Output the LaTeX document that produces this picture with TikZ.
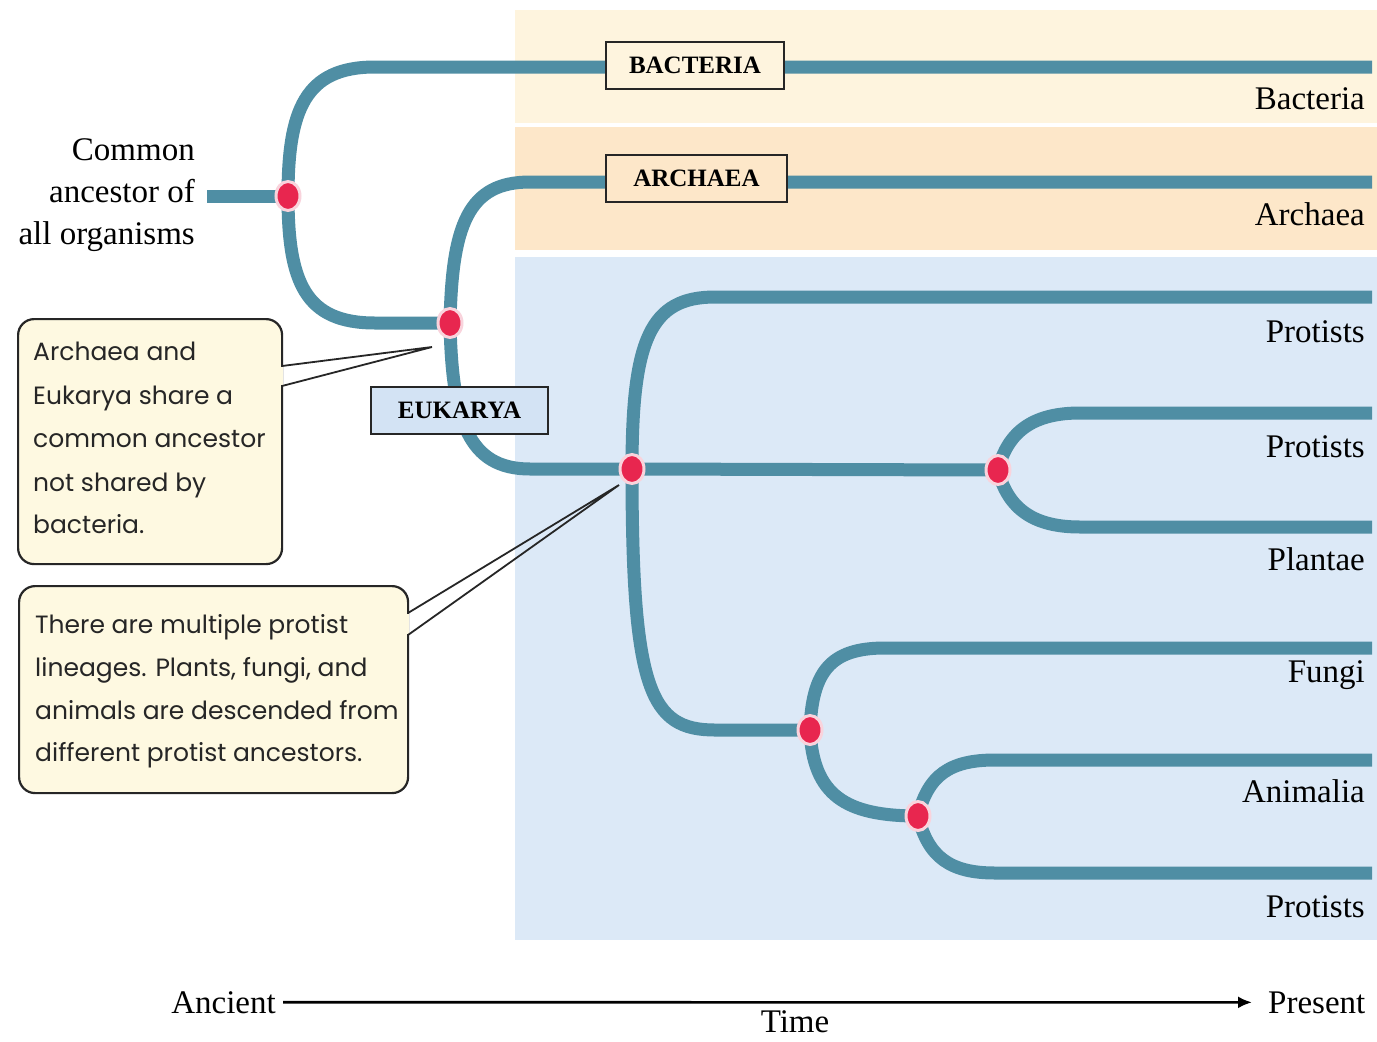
\documentclass[tikz,border=0pt]{standalone}
\usepackage{fontspec}
\setmainfont{Liberation Serif}
\newfontfamily\callfont{Poppins}
\usetikzlibrary{arrows.meta,shapes.geometric}
\definecolor{branchc}{HTML}{4F8EA4}
\definecolor{bactbg}{HTML}{FEF4DE}
\definecolor{archbg}{HTML}{FDE7C9}
\definecolor{eukbg}{HTML}{DCE9F7}
\definecolor{eukbox}{HTML}{D3E3F4}
\definecolor{callbg}{HTML}{FEF9E1}
\definecolor{dotc}{HTML}{E8264F}
\definecolor{haloc}{HTML}{F9D3DC}
\definecolor{boxline}{HTML}{262626}
\begin{document}
\begin{tikzpicture}[x=1pt,y=-1pt,
  branch/.style={draw=branchc,line width=13pt,line cap=butt},
  lbl/.style={anchor=base east,inner sep=0pt,font=\fontsize{33}{36}\selectfont},
  axislbl/.style={inner sep=0pt,font=\fontsize{33}{36}\selectfont},
  anclbl/.style={anchor=base east,inner sep=0pt,font=\fontsize{33}{36}\selectfont},
  cladebox/.style={draw=boxline,line width=2.2pt,inner sep=0pt,minimum height=47pt,font=\bfseries\fontsize{25}{28}\selectfont},
  callout/.style={draw=boxline,line width=2.2pt,fill=callbg,rounded corners=16pt,anchor=north west,inner sep=0pt},
  calltext/.style={anchor=base west,inner sep=0pt,text=black!85,font=\callfont\fontsize{25}{28}\selectfont},
  pointer/.style={draw=boxline,line width=1.8pt,line join=miter},
  dot/.style={ellipse,fill=dotc,draw=haloc,line width=3pt,minimum width=24pt,minimum height=29pt,inner sep=0pt}
]
\useasboundingbox (0,0) rectangle (1377,1042);
\fill[white] (0,0) rectangle (1377,1042);
% background bands
\fill[bactbg] (515,10) rectangle (1377,123);
\fill[archbg] (515,127) rectangle (1377,250);
\fill[eukbg] (515,257) rectangle (1377,940);

% branch points
\coordinate (root0) at (207,196);
\coordinate (n1) at (288,196);
\coordinate (n2) at (450,323);
\coordinate (n3) at (632,469);
\coordinate (n4) at (998,470);
\coordinate (n5) at (810,730);
\coordinate (n6) at (918,816);
% tips
\coordinate (eB) at (1372,67);
\coordinate (eA) at (1372,182);
\coordinate (eP1) at (1372,297);
\coordinate (eP2) at (1372,413);
\coordinate (ePl) at (1372,527);
\coordinate (eF) at (1372,648);
\coordinate (eAn) at (1372,760);
\coordinate (eP3) at (1372,873);

% branches
\draw[branch] (root0) -- (n1);
\draw[branch] (n1) .. controls (288,110) and (305,67) .. (375,67) -- (eB);
\draw[branch] (n1) .. controls (288,282) and (305,323) .. (375,323) -- (n2);
\draw[branch] (n2) .. controls (452,225) and (468,182) .. (530,182) -- (eA);
\draw[branch] (n2) .. controls (452,420) and (468,469) .. (530,469) -- (n3);
\draw[branch] (n3) .. controls (632,340) and (650,297) .. (715,297) -- (eP1);
\draw[branch] (n3) -- (n4);
\draw[branch] (n3) .. controls (632,690) and (650,730) .. (715,730) -- (n5);
\draw[branch] (n4) .. controls (1008,430) and (1035,413) .. (1080,413) -- (eP2);
\draw[branch] (n4) .. controls (1008,510) and (1035,527) .. (1080,527) -- (ePl);
\draw[branch] (n5) .. controls (812,672) and (830,648) .. (885,648) -- (eF);
\draw[branch] (n5) .. controls (813,795) and (845,816) .. (n6);
\draw[branch] (n6) .. controls (928,775) and (950,760) .. (995,760) -- (eAn);
\draw[branch] (n6) .. controls (928,857) and (950,873) .. (995,873) -- (eP3);

% clade boxes
\node[cladebox,fill=bactbg,minimum width=178pt] (bact) at (695,65.5) {BACTERIA};
\node[cladebox,fill=archbg,minimum width=181pt] (arch) at (696.5,178.5) {ARCHAEA};
\node[cladebox,fill=eukbox,minimum width=177pt] (euk) at (459.5,410.5) {EUKARYA};

% nodes (dots)
\foreach \n in {n1,n2,n3,n4,n5,n6} \node[dot] (d\n) at (\n) {};

% tip labels
\node[lbl] (lB) at (1365,109) {Bacteria};
\node[lbl] (lA) at (1365,225) {Archaea};
\node[lbl] (lP1) at (1365,342) {Protists};
\node[lbl] (lP2) at (1365,457) {Protists};
\node[lbl] (lPl) at (1365,570) {Plantae};
\node[lbl] (lF) at (1365,682) {Fungi};
\node[lbl] (lAn) at (1365,802) {Animalia};
\node[lbl] (lP3) at (1365,917) {Protists};

% common ancestor text
\node[anclbl] (ca1) at (195,160) {Common};
\node[anclbl] (ca2) at (195,202) {ancestor of};
\node[anclbl] (ca3) at (195,244) {all organisms};

% callout 1
\node[callout,minimum width=264pt,minimum height=245pt] (c1) at (17,318) {};
\draw[callbg,line width=3pt] (281,367) -- (281,385);
\coordinate (tip1) at (432,347);
\draw[pointer] (282,366) -- (tip1) -- (282,386);
\node[calltext] (t11) at (33,360) {Archaea and};
\node[calltext] (t12) at (33,404) {Eukarya share a};
\node[calltext] (t13) at (33,447) {common ancestor};
\node[calltext] (t14) at (33,491) {not shared by};
\node[calltext] (t15) at (33,533) {bacteria.};

% callout 2
\node[callout,minimum width=389pt,minimum height=207pt] (c2) at (18,585) {};
\draw[callbg,line width=3pt] (407,614) -- (407,634);
\coordinate (tip2) at (619,485);
\draw[pointer] (408,613) -- (tip2) -- (408,635);
\node[calltext] (t21) at (35,633) {There are multiple protist};
\node[calltext] (t22) at (35,676) {lineages. Plants, fungi, and};
\node[calltext] (t23) at (35,719) {animals are descended from};
\node[calltext] (t24) at (35,761) {different protist ancestors.};

% time axis
\node[axislbl,anchor=base east] (anc) at (276,1013) {Ancient};
\node[axislbl,anchor=base west] (pres) at (1268,1013) {Present};
\draw[line width=2.6pt,-{Latex[length=14pt,width=12pt]}] ([xshift=7pt]anc.east) -- ([xshift=-16pt]pres.west);
\node[axislbl,anchor=base] (time) at (795,1032) {Time};
\end{tikzpicture}
\end{document}
